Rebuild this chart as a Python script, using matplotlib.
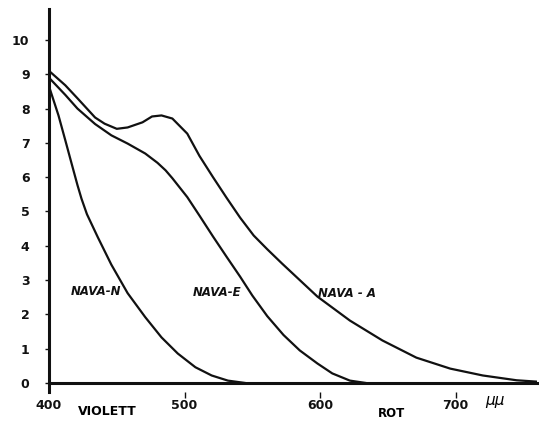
import matplotlib.pyplot as plt

# wavelengths (m-mu) and values
nava_a_x = [400, 412, 421, 434, 441, 450, 458, 469, 476, 483, 491, 502, 511, 521,
            531, 541, 551, 561, 572, 585, 598, 622, 646, 671, 696, 720, 745, 760]
nava_a_y = [9.1, 8.68, 8.3, 7.74, 7.56, 7.41, 7.45, 7.6, 7.77, 7.8, 7.71, 7.27, 6.62, 6.0,
            5.4, 4.82, 4.3, 3.9, 3.48, 3.0, 2.52, 1.82, 1.24, 0.74, 0.42, 0.22, 0.08, 0.04]

nava_e_x = [400, 412, 421, 434, 446, 458, 471, 480, 486, 491, 502, 511, 521, 531,
            541, 550, 561, 573, 585, 598, 609, 622, 634]
nava_e_y = [8.9, 8.4, 8.0, 7.55, 7.22, 6.98, 6.69, 6.42, 6.2, 5.97, 5.42, 4.88, 4.27, 3.68,
            3.1, 2.55, 1.95, 1.4, 0.95, 0.57, 0.28, 0.07, 0.0]

nava_n_x = [400, 407, 412, 417, 421, 424, 428, 436, 446, 458, 471, 483, 495, 508,
            520, 532, 545]
nava_n_y = [8.65, 7.8, 7.08, 6.35, 5.77, 5.37, 4.92, 4.25, 3.45, 2.62, 1.92, 1.33, 0.86, 0.46,
            0.22, 0.07, 0.0]

labels = ["NAVA-N", "NAVA-E", "NAVA - A"]
label_x = [435, 524, 620]
label_y = [2.67, 2.64, 2.6]

y_ticks = list(range(0, 11))
x_ticks = [400, 500, 600, 700]

fig = plt.figure(figsize=(5.39, 4.26), dpi=100)
ax = fig.add_axes([49 / 539, 34.4 / 426, 488 / 539, 382.5 / 426])

for xs, ys in [(nava_a_x, nava_a_y), (nava_e_x, nava_e_y), (nava_n_x, nava_n_y)]:
    ax.plot(xs, ys, color="#111111", linewidth=1.6,
            solid_capstyle="round", solid_joinstyle="round")

ax.plot([400, 760], [0, 0], color="#111111", linewidth=2.2, clip_on=False)

for t, x, y in zip(labels, label_x, label_y):
    ax.text(x, y, t, fontsize=8.5, fontstyle="italic", fontweight="bold",
            ha="center", va="center", color="#111111")

ax.set_xlim(400, 760)
ax.set_ylim(-0.25, 10.9)

for side in ["top", "right", "bottom"]:
    ax.spines[side].set_visible(False)
ax.spines["left"].set_linewidth(2.2)
ax.spines["left"].set_color("#111111")

ax.set_yticks(y_ticks)
ax.set_yticklabels([str(v) for v in y_ticks], fontsize=9, fontweight="bold")
ax.tick_params(axis="y", length=3, width=1, pad=11, colors="#111111")

ax.set_xticks(x_ticks)
ax.set_xticklabels([str(v) for v in x_ticks], fontsize=9, fontweight="bold")
ax.tick_params(axis="x", length=4, width=1, pad=1, colors="#111111")
ax.xaxis.get_major_ticks()[0].tick1line.set_visible(False)

ax.text(729, -0.3, "\u03bc\u03bc", fontsize=11, fontstyle="italic",
        ha="center", va="top", clip_on=False)
ax.text(443, -0.65, "VIOLETT", fontsize=9, fontweight="bold",
        ha="center", va="top", clip_on=False)
ax.text(653, -0.7, "ROT", fontsize=8.5, fontweight="bold",
        ha="center", va="top", clip_on=False)

fig.savefig("out.png", dpi=100)
